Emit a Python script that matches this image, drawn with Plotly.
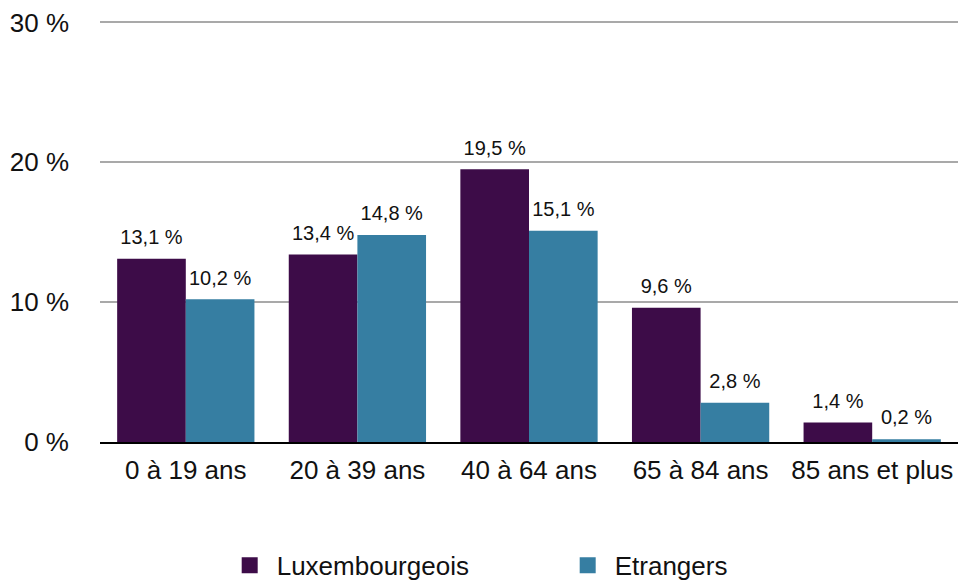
import plotly.graph_objects as go

categories = ["0 à 19 ans", "20 à 39 ans", "40 à 64 ans", "65 à 84 ans", "85 ans et plus"]
luxembourgeois = [13.1, 13.4, 19.5, 9.6, 1.4]
etrangers = [10.2, 14.8, 15.1, 2.8, 0.2]
y_ticks = [0, 10, 20, 30]
y_tick_labels = ["0 %", "10 %", "20 %", "30 %"]

C_LUX = "#3d0c48"
C_ETR = "#367ea2"
FONT = "Liberation Sans, Arial, Helvetica, sans-serif"
GAP = 0.2

def fmt(v):
    return f"{v:.1f}".replace(".", ",") + " %"

fig = go.Figure()
for name, vals, col in [("Luxembourgeois", luxembourgeois, C_LUX), ("Etrangers", etrangers, C_ETR)]:
    fig.add_trace(go.Bar(
        x=categories, y=vals, name=name, offsetgroup=name,
        marker=dict(color=col, line=dict(width=0)), showlegend=False,
    ))
for name, vals in [("Luxembourgeois", luxembourgeois), ("Etrangers", etrangers)]:
    fig.add_trace(go.Scatter(
        x=categories, y=vals, mode="markers+text", offsetgroup=name,
        marker=dict(size=14, opacity=0), text=[fmt(v) for v in vals],
        textposition="top center", textfont=dict(size=20, color="#111"),
        showlegend=False, cliponaxis=False, hoverinfo="skip",
    ))
# legend entries with larger square markers
fig.add_trace(go.Scatter(x=[None], y=[None], mode="markers", name="Luxembourgeois",
                         marker=dict(symbol="square", size=20, color=C_LUX)))
fig.add_trace(go.Scatter(x=[None], y=[None], mode="markers", name="Etrangers",
                         marker=dict(symbol="square", size=20, color=C_ETR)))

fig.update_layout(
    width=958, height=583,
    margin=dict(l=100, r=0, t=21, b=141, autoexpand=False),
    plot_bgcolor="white", paper_bgcolor="white",
    font=dict(family=FONT, size=26, color="#111"),
    barmode="group", bargap=GAP, bargroupgap=0,
    scattermode="group", scattergap=GAP,
    legend=dict(orientation="h", x=0.143, xanchor="left", y=-0.293, yanchor="middle",
                font=dict(size=26), entrywidth=279, itemwidth=44, itemsizing="trace"),
    xaxis=dict(showline=True, linecolor="black", linewidth=2, ticks="",
               tickfont=dict(size=26), ticklabelstandoff=4, showgrid=False),
    yaxis=dict(range=[0, 30.1], tickvals=y_ticks, ticktext=y_tick_labels,
               showgrid=True, gridcolor="#a9a9a9", gridwidth=1.5,
               zeroline=False, showline=False, ticks="",
               tickfont=dict(size=26), ticklabelstandoff=30),
)

fig.write_html("out.html", config={"displayModeBar": False},
               post_script="document.body.style.margin='0';document.body.style.overflow='hidden';")
